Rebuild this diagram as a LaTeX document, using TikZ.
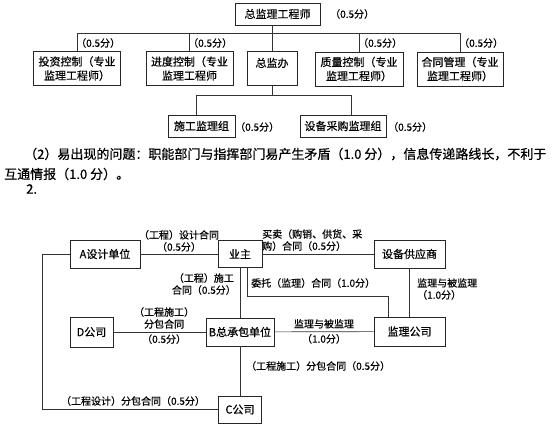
\documentclass[tikz,border=0pt]{standalone}
\usepackage{fontspec}
\setmainfont{Noto Sans CJK SC}[FakeBold=0.6]
\tikzset{
  bx/.style={draw=black!85, line width=0.7pt, inner sep=1pt, align=center, font=\fontsize{11}{14}\selectfont},
  lb/.style={inner sep=0pt, font=\fontsize{10}{12}\selectfont},
  ln/.style={draw=black!80, line width=0.7pt},
  para/.style={anchor=west, inner sep=0pt, font=\fontsize{13}{16}\selectfont}}

\begin{document}
\begin{tikzpicture}[x=1pt, y=-1pt]
	\useasboundingbox (0,0) rectangle (560,428);
	% organisation chart
	\node[bx, minimum width=85pt, minimum height=22pt] (zj) at (277.5,14) {总监理工程师};
	\node[bx, minimum width=87pt, minimum height=34pt] (tz) at (77,68.5) {投资控制（专业\\监理工程师）};
	\node[bx, minimum width=87pt, minimum height=34pt] (jd) at (189.5,68.5) {进度控制（专业\\监理工程师};
	\node[bx, minimum width=50pt, minimum height=34pt, text depth=12pt] (zjb) at (272,68.5) {总监办};
	\node[bx, minimum width=88pt, minimum height=34pt] (zl) at (359,69) {质量控制（专业\\监理工程师）};
	\node[bx, minimum width=86pt, minimum height=34pt] (ht) at (460,69) {合同管理（专业\\监理工程师）};
	\node[bx, minimum width=67pt, minimum height=22pt] (sg) at (201.5,126) {施工监理组};
	\node[bx, minimum width=86pt, minimum height=22pt] (sb) at (343,126) {设备采购监理组};
	\coordinate (bus) at (0,33);
	\coordinate (v1) at (196,95);
	\coordinate (v2) at (351,95);
	\draw[ln] (zj.south -| zjb) -- (zjb.north);
	\draw[ln] (tz.north) -- (tz.north |- bus) -- (ht.north |- bus) -- (ht.north);
	\draw[ln] (jd.north) -- (jd.north |- bus);\draw[ln] (zl.north) -- (zl.north |- bus);
	\draw[ln] (zjb.south) -- (zjb.south |- v1);
	\draw[ln] (sg.north -| v1) -- (v1) -- (v2) -- (sb.north -| v2);
	\node[lb, anchor=west] (s0) at (330,14) {（0.5分）};
	\node[lb, anchor=west] (s1) at (76,43) {（0.5分）};
	\node[lb, anchor=west] (s2) at (188,43) {（0.5分）};
	\node[lb, anchor=west] (s3) at (358,43) {（0.5分）};
	\node[lb, anchor=west] (s4) at (459,43) {（0.5分）};
	\node[lb, anchor=west] (s5) at (235,127) {（0.5分）};
	\node[lb, anchor=west] (s6) at (388,127) {（0.5分）};
	% text
	\node[para] (p1) at (24,154) {（2）易出现的问题：职能部门与指挥部门易产生矛盾（1.0 分），信息传递路线长，不利于};
	\node[para] (p2) at (4,174) {互通情报（1.0 分）。};
	\node[para] (p3) at (26,189) {2.};
	% contract diagram
	\node[bx, minimum width=70pt, minimum height=28pt] (A) at (105,254) {A设计单位};
	\node[bx, minimum width=44pt, minimum height=27pt] (yz) at (240,254) {业主};
	\node[bx, minimum width=71pt, minimum height=28pt] (gys) at (409.5,254) {设备供应商};
	\node[bx, minimum width=43pt, minimum height=30pt] (D) at (91.5,332) {D公司};
	\node[bx, minimum width=68pt, minimum height=28pt] (B) at (240,332) {B总承包单位};
	\node[bx, minimum width=71pt, minimum height=29pt] (jl) at (409.5,331.5) {监理公司};
	\node[bx, minimum width=43pt, minimum height=27pt] (C) at (240,409.5) {C公司};
	\coordinate (wt) at (388,296);
	\coordinate (ol) at (42,0);
	\draw[ln] (A) -- node[lb, align=center, above=2pt] (c1) {（工程）设计合同\\（0.5分）} (yz);
	\draw[ln] (yz) -- (gys);
	\draw[ln] (yz) -- (B);
	\draw[ln] ([xshift=7pt]yz.south) |- (wt) -- (wt |- jl.north);
	\draw[ln] (gys) -- (jl);
	\draw[ln] (D) -- node[lb, pos=0.55, align=center, above=3pt] (c5) {（工程施工）\\分包合同} node[lb, pos=0.55, below=2pt] (c6) {（0.5分）} (B);
	\draw[ln] (B) -- node[lb, above=3pt] (c7) {监理与被监理} node[lb, below=2pt] (c8) {（1.0分）} (jl);
	\draw[ln] (B) -- (C);
	\draw[ln] (A.west) -- (A.west -| ol) |- (C.west);
	\node[lb, align=left, anchor=south west] (c2) at (262,251) {买卖（购销、供货、采\\购）合同（0.5分）};
	\node[lb, align=center, anchor=east] (c3) at (236,284) {（工程）施工\\合同（0.5分）};
	\node[lb, anchor=west] (c4) at (251,283) {委托（监理）合同（1.0分）};
	\node[lb, align=left, anchor=west] (c9) at (417,289) {监理与被监理\\（1.0分）};
	\node[lb, anchor=west] (c10) at (246,366) {（工程施工）分包合同（0.5分）};
	\node[lb] (c11) at (133,401) {（工程设计）分包合同（0.5分）};
\end{tikzpicture}
\end{document}
